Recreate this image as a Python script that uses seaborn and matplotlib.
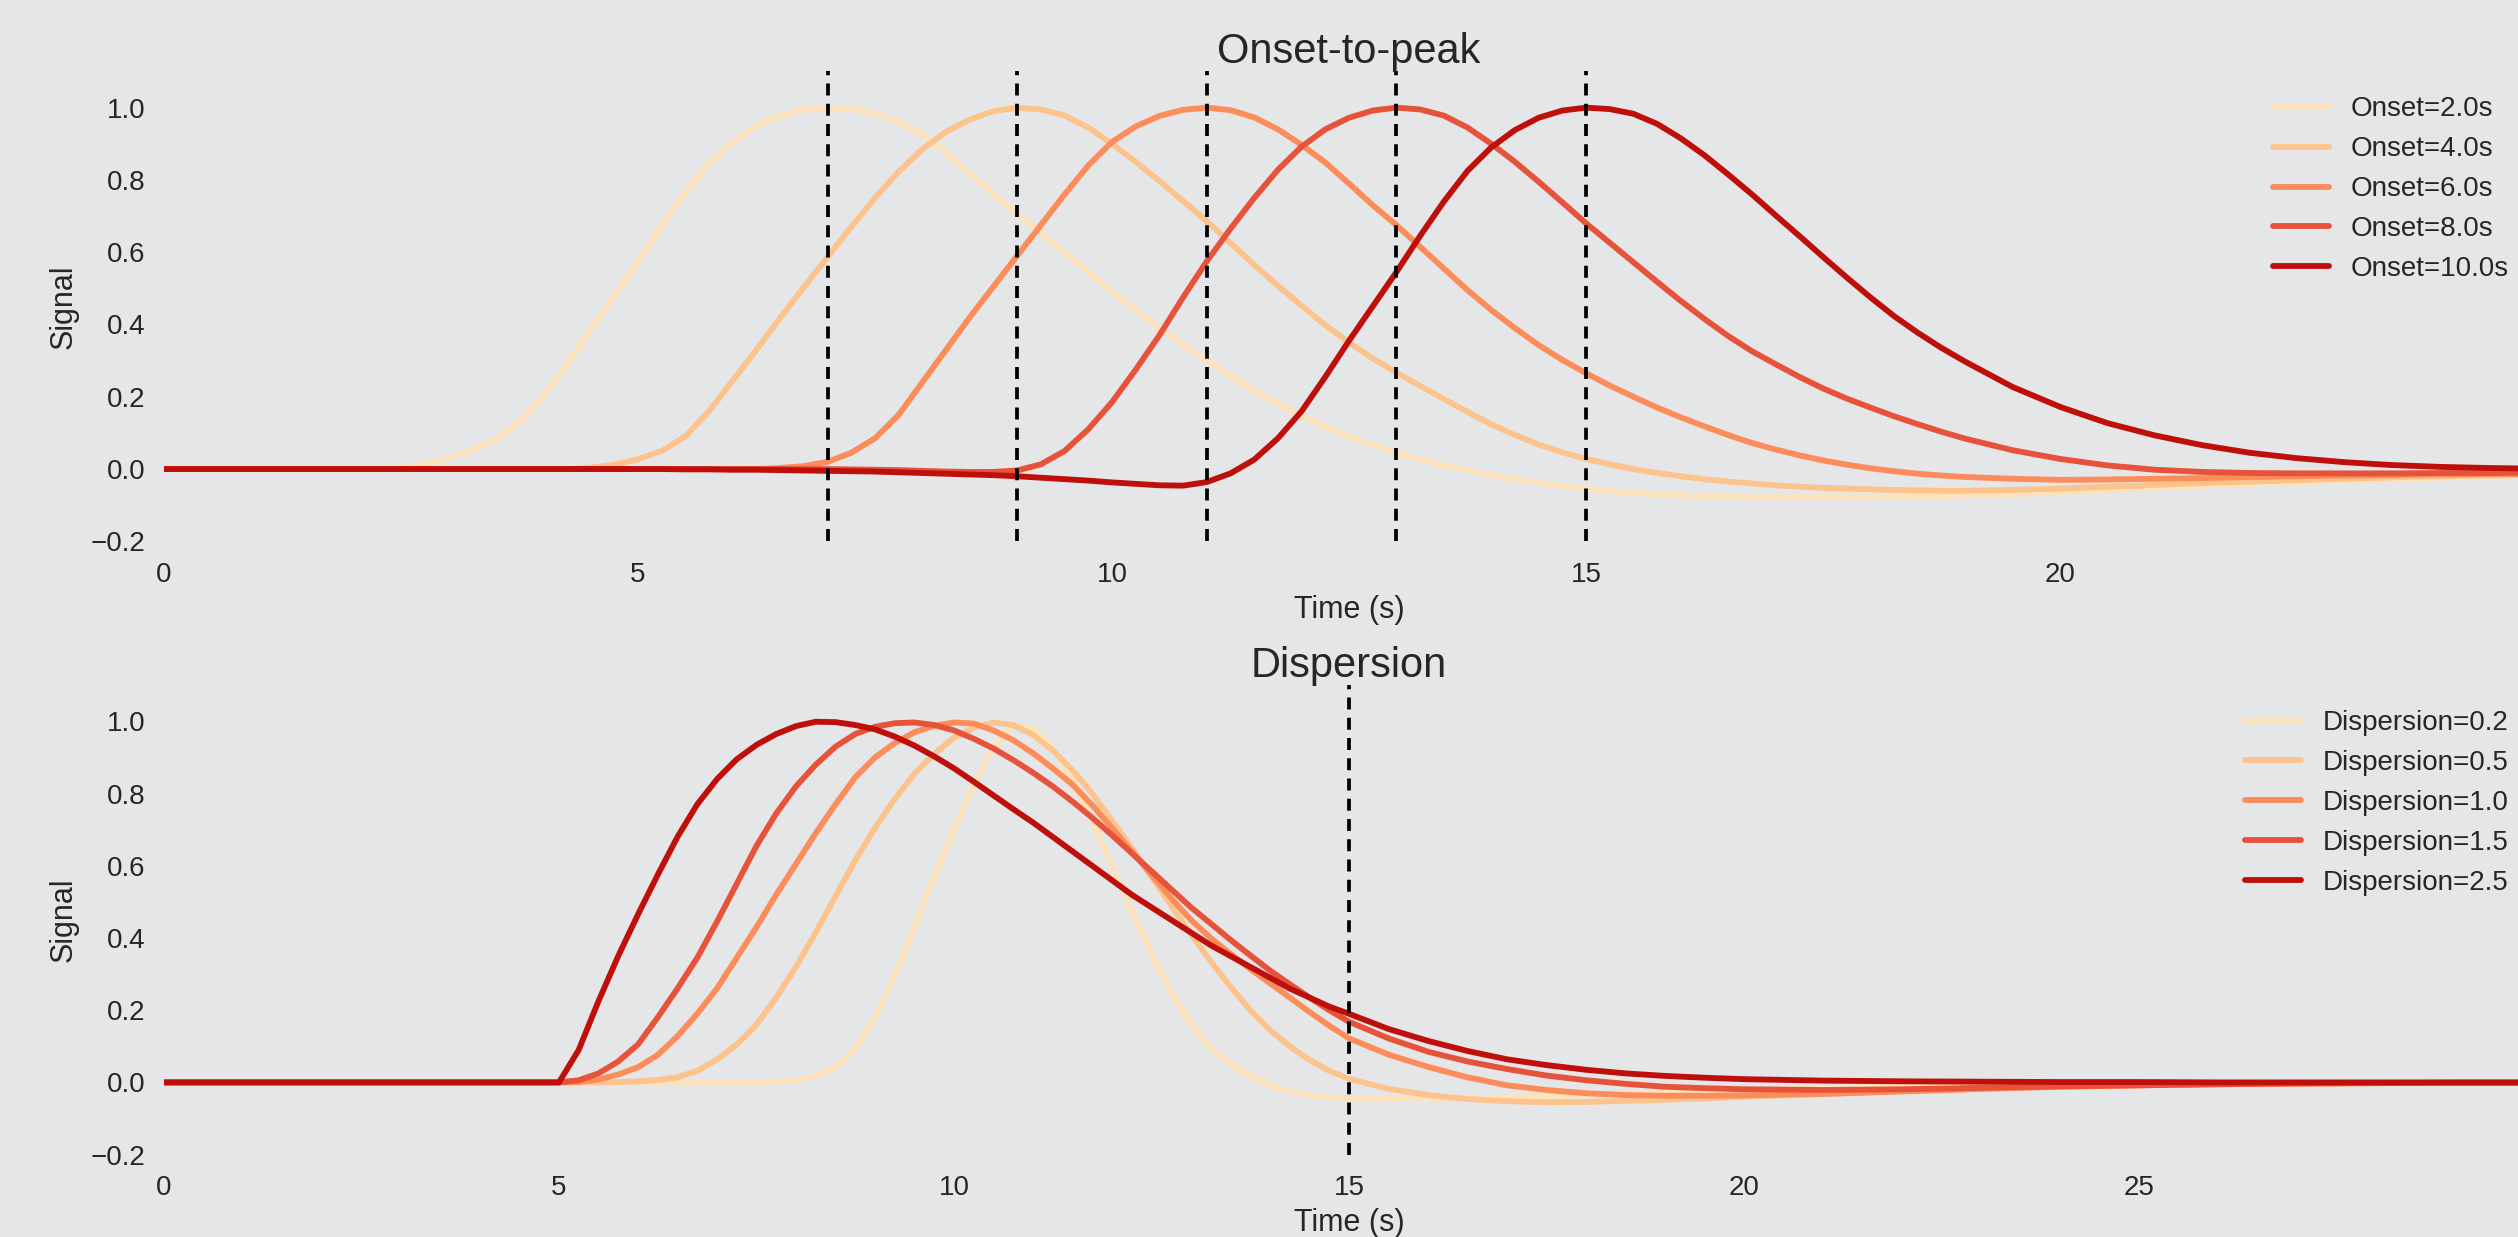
import numpy as np
import pandas as pd
import seaborn as sns
import matplotlib.pyplot as plt

# ---- Onset-to-peak panel ----
time_onset = [0.0, 0.5, 1.0, 1.5,
              2.0, 2.25, 2.5, 2.75, 3.0, 3.25, 3.5, 3.75, 4.0, 4.25, 4.5, 4.75,
              5.0, 5.25, 5.5, 5.75, 6.0, 6.25, 6.5, 6.75, 7.0, 7.25, 7.5, 7.75,
              8.0, 8.25, 8.5, 8.75, 9.0, 9.25, 9.5, 9.75, 10.0, 10.25, 10.5, 10.75,
              11.0, 11.25, 11.5, 11.75, 12.0, 12.25, 12.5, 12.75, 13.0, 13.25, 13.5, 13.75,
              14.0, 14.25, 14.5, 14.75, 15.0, 15.25, 15.5, 15.75, 16.0, 16.25, 16.5, 16.75,
              17.0, 17.25, 17.5, 17.75, 18.0, 18.25, 18.5, 18.75, 19.0,
              19.5, 20.0, 20.5, 21.0, 21.5, 22.0, 22.5, 23.0, 23.5, 24.0, 24.5, 25.0]

onset_2 = [0, 0, 0, 0,
           0, 0.0, 0.004, 0.013, 0.03, 0.052, 0.082, 0.13, 0.2, 0.29, 0.385, 0.48,
           0.575, 0.675, 0.765, 0.845, 0.905, 0.95, 0.978, 0.994, 1.0, 0.996, 0.984, 0.96,
           0.927, 0.875, 0.818, 0.762, 0.706, 0.653, 0.6, 0.545, 0.49, 0.44, 0.39, 0.345,
           0.3, 0.257, 0.217, 0.18, 0.147, 0.117, 0.09, 0.066, 0.045, 0.027, 0.01, -0.004,
           -0.017, -0.028, -0.038, -0.047, -0.055, -0.061, -0.066, -0.07,
           -0.073, -0.075, -0.077, -0.078, -0.078, -0.078, -0.078, -0.078,
           -0.078, -0.077, -0.076, -0.075, -0.073,
           -0.069, -0.064, -0.058, -0.052, -0.046, -0.041, -0.036, -0.032, -0.028, -0.024,
           -0.02, -0.017]
onset_4 = [0, 0, 0, 0,
           0, 0, 0, 0, 0, 0, 0, 0, 0, 0.0, 0.004, 0.012,
           0.027, 0.05, 0.09, 0.16, 0.245, 0.33, 0.418, 0.503, 0.587, 0.67, 0.75, 0.823,
           0.885, 0.933, 0.967, 0.99, 1.0, 0.995, 0.978, 0.945, 0.9, 0.85, 0.797, 0.742,
           0.686, 0.625, 0.565, 0.507, 0.452, 0.398, 0.35, 0.306, 0.267, 0.23, 0.194, 0.158,
           0.124, 0.094, 0.068, 0.046, 0.028, 0.013, 0.0, -0.011,
           -0.02, -0.028, -0.035, -0.04, -0.045, -0.049, -0.052, -0.054,
           -0.056, -0.058, -0.059, -0.06, -0.06,
           -0.058, -0.054, -0.049, -0.044, -0.039, -0.035, -0.031, -0.027, -0.023, -0.02,
           -0.018, -0.016]
onset_6 = [0, 0, 0, 0,
           0, 0, 0, 0, 0, 0, 0, 0, 0, 0, 0, 0,
           0, 0, 0, 0, 0, 0.0, 0.003, 0.008, 0.02, 0.045, 0.085, 0.15,
           0.24, 0.33, 0.42, 0.505, 0.59, 0.675, 0.76, 0.84, 0.905, 0.948, 0.977, 0.994,
           1.0, 0.993, 0.973, 0.94, 0.897, 0.848, 0.79, 0.73, 0.675, 0.615, 0.555, 0.495,
           0.44, 0.39, 0.343, 0.302, 0.265, 0.231, 0.2, 0.17,
           0.143, 0.118, 0.094, 0.072, 0.054, 0.038, 0.024, 0.012,
           0.002, -0.006, -0.013, -0.018, -0.022,
           -0.027, -0.03, -0.029, -0.027, -0.025, -0.022, -0.02, -0.018, -0.017, -0.015,
           -0.014, -0.013]
onset_8 = [0, 0, 0, 0,
           0, 0, 0, 0, 0, 0, 0, 0, 0, 0, 0, 0,
           0, 0, 0, 0, 0, 0, 0, 0, 0, -0.001, -0.002, -0.003,
           -0.005, -0.007, -0.008, -0.008, -0.004, 0.013, 0.05, 0.11, 0.185, 0.275, 0.37, 0.475,
           0.575, 0.665, 0.75, 0.828, 0.892, 0.94, 0.972, 0.992, 1.0, 0.995, 0.978, 0.945,
           0.9, 0.85, 0.795, 0.738, 0.68, 0.626, 0.572, 0.518,
           0.465, 0.415, 0.368, 0.326, 0.29, 0.255, 0.223, 0.195,
           0.17, 0.146, 0.124, 0.103, 0.084,
           0.052, 0.028, 0.01, -0.002, -0.008, -0.011, -0.012, -0.012, -0.012, -0.011,
           -0.011, -0.01]
onset_10 = [0, 0, 0, 0,
            0, 0, 0, 0, 0, 0, 0, 0, 0, 0, 0, 0,
            0, 0.0, -0.001, -0.001, -0.002, -0.002, -0.003, -0.004,
            -0.005, -0.006, -0.007, -0.009,
            -0.011, -0.013, -0.015, -0.017, -0.02, -0.024, -0.028, -0.032,
            -0.037, -0.041, -0.045, -0.046,
            -0.036, -0.012, 0.026, 0.085, 0.16, 0.255, 0.355, 0.45, 0.545, 0.645, 0.74, 0.825,
            0.89, 0.938, 0.972, 0.992, 1.0, 0.996, 0.983, 0.955,
            0.915, 0.868, 0.815, 0.76, 0.702, 0.645, 0.587, 0.53,
            0.475, 0.423, 0.377, 0.335, 0.297,
            0.227, 0.172, 0.127, 0.093, 0.066, 0.045, 0.03, 0.019, 0.011, 0.006, 0.003, 0.001]

onset_labels = ["Onset=2.0s", "Onset=4.0s", "Onset=6.0s", "Onset=8.0s", "Onset=10.0s"]
onset_curves = [onset_2, onset_4, onset_6, onset_8, onset_10]
onset_peaks = [7, 9, 11, 13, 15]
onset_xticks = [0, 5, 10, 15, 20]

# ---- Dispersion panel ----
time_disp = [0, 1, 2, 3, 4,
             5.0, 5.25, 5.5, 5.75, 6.0, 6.25, 6.5, 6.75, 7.0, 7.25, 7.5, 7.75, 8.0, 8.25,
             8.5, 8.75, 9.0, 9.25, 9.5, 9.75, 10.0, 10.25, 10.5, 10.75, 11.0, 11.25, 11.5,
             11.75, 12.0, 12.25, 12.5, 12.75, 13.0, 13.25, 13.5, 13.75, 14.0, 14.25, 14.5,
             14.75, 15.0,
             15.5, 16.0, 16.5, 17.0, 17.5, 18.0, 18.5, 19.0, 19.5, 20.0,
             21, 22, 23, 24, 25, 26, 27, 28, 29, 30]

disp_02 = [0, 0, 0, 0, 0,
           0, 0, 0, 0, 0, 0, 0, 0, 0, 0, 0, 0.002, 0.006, 0.017, 0.042, 0.095, 0.18, 0.295,
           0.43, 0.57, 0.7, 0.825, 0.93, 0.99, 0.98, 0.925, 0.84, 0.725, 0.6, 0.475, 0.355,
           0.25, 0.16, 0.095, 0.05, 0.017, -0.008, -0.025, -0.036, -0.041, -0.044,
           -0.046, -0.046, -0.044, -0.042, -0.039, -0.036, -0.032, -0.029, -0.025, -0.022,
           -0.016, -0.011, -0.007, -0.005, -0.003, -0.002, -0.001, -0.001, 0, 0]
disp_05 = [0, 0, 0, 0, 0,
           0, 0, 0, 0.001, 0.003, 0.007, 0.014, 0.032, 0.063, 0.105, 0.16, 0.235, 0.32,
           0.415, 0.515, 0.615, 0.705, 0.785, 0.855, 0.91, 0.955, 0.983, 0.997, 0.99, 0.963,
           0.92, 0.865, 0.8, 0.725, 0.65, 0.57, 0.49, 0.41, 0.335, 0.265, 0.2, 0.145, 0.1,
           0.062, 0.032, 0.01,
           -0.018, -0.035, -0.046, -0.052, -0.055, -0.054, -0.051, -0.048, -0.044, -0.04,
           -0.032, -0.024, -0.017, -0.012, -0.008, -0.005, -0.003, -0.002, -0.001, -0.001]
disp_10 = [0, 0, 0, 0, 0,
           0, 0.001, 0.008, 0.022, 0.042, 0.076, 0.128, 0.19, 0.26, 0.345, 0.43, 0.52, 0.605,
           0.69, 0.77, 0.845, 0.9, 0.94, 0.97, 0.988, 0.997, 0.994, 0.975, 0.948, 0.912,
           0.87, 0.825, 0.768, 0.705, 0.64, 0.575, 0.51, 0.45, 0.4, 0.356, 0.314, 0.275,
           0.235, 0.195, 0.157, 0.122,
           0.077, 0.043, 0.014, -0.008, -0.021, -0.03, -0.035, -0.037, -0.037, -0.036,
           -0.032, -0.025, -0.018, -0.012, -0.008, -0.005, -0.003, -0.002, -0.001, -0.001]
disp_15 = [0, 0, 0, 0, 0,
           0, 0.006, 0.025, 0.058, 0.105, 0.18, 0.26, 0.345, 0.445, 0.55, 0.655, 0.745, 0.82,
           0.88, 0.93, 0.965, 0.985, 0.995, 0.997, 0.99, 0.975, 0.952, 0.925, 0.893, 0.858,
           0.82, 0.778, 0.733, 0.685, 0.635, 0.585, 0.535, 0.485, 0.44, 0.395, 0.352, 0.31,
           0.272, 0.235, 0.2, 0.168,
           0.122, 0.085, 0.058, 0.037, 0.019, 0.006, -0.004, -0.012, -0.016, -0.019,
           -0.021, -0.019, -0.015, -0.011, -0.008, -0.005, -0.003, -0.002, -0.001, -0.001]
disp_25 = [0, 0, 0, 0, 0,
           0, 0.09, 0.225, 0.35, 0.465, 0.575, 0.68, 0.77, 0.84, 0.895, 0.935, 0.965, 0.987,
           0.999, 0.998, 0.99, 0.978, 0.958, 0.933, 0.903, 0.87, 0.833, 0.795, 0.757, 0.72,
           0.68, 0.64, 0.6, 0.56, 0.52, 0.485, 0.45, 0.415, 0.38, 0.35, 0.32, 0.29, 0.26,
           0.235, 0.21, 0.19,
           0.148, 0.115, 0.087, 0.064, 0.048, 0.035, 0.025, 0.018, 0.013, 0.009,
           0.005, 0.003, 0.002, 0.001, 0.001, 0, 0, 0, 0, 0]

disp_labels = ["Dispersion=0.2", "Dispersion=0.5", "Dispersion=1.0", "Dispersion=1.5",
               "Dispersion=2.5"]
disp_curves = [disp_02, disp_05, disp_10, disp_15, disp_25]
disp_marks = [15]
disp_xticks = [0, 5, 10, 15, 20, 25]

bg = "#e5e6e8"
sns.set_theme(style="dark", rc={"axes.facecolor": bg, "figure.facecolor": bg,
                                "text.color": ".15", "axes.labelcolor": ".15",
                                "xtick.color": ".15", "ytick.color": ".15"})
plt.rcParams["font.family"] = ["Liberation Sans", "DejaVu Sans"]

palette = sns.color_palette("OrRd", 5)

fig = plt.figure(figsize=(25.18, 12.37), dpi=100)
ax_top = fig.add_axes([0.0651, 0.5624, 0.9413, 0.3798])
ax_bot = fig.add_axes([0.0651, 0.0666, 0.9413, 0.3794])


def draw_panel(ax, t, curves, labels, marks, title, xmax, xticks):
    for vals, lab, col in zip(curves, labels, palette):
        sns.lineplot(x=t, y=vals, color=col, label=lab, linewidth=4.2, ax=ax)
    for m in marks:
        ax.axvline(m, color="black", linestyle=(0, (3.2, 2.2)), linewidth=2.7)
    ax.set_xlim(0, xmax)
    ax.set_ylim(-0.2, 1.1)
    ax.set_xticks(xticks)
    ax.set_yticks([-0.2, 0.0, 0.2, 0.4, 0.6, 0.8, 1.0])
    ax.set_title(title, fontsize=30)
    ax.set_xlabel("Time (s)", fontsize=22, labelpad=5)
    ax.set_ylabel("Signal", fontsize=22, labelpad=9)
    ax.tick_params(axis="both", labelsize=20, length=0)
    ax.tick_params(axis="x", pad=15)
    ax.tick_params(axis="y", pad=13)
    for s in ax.spines.values():
        s.set_visible(False)
    ax.legend(loc="upper right", frameon=False, fontsize=20)


draw_panel(ax_top, time_onset, onset_curves, onset_labels, onset_peaks,
           "Onset-to-peak", 25, onset_xticks)
draw_panel(ax_bot, time_disp, disp_curves, disp_labels, disp_marks,
           "Dispersion", 30, disp_xticks)

fig.savefig("out.png", dpi=100, facecolor=bg)
